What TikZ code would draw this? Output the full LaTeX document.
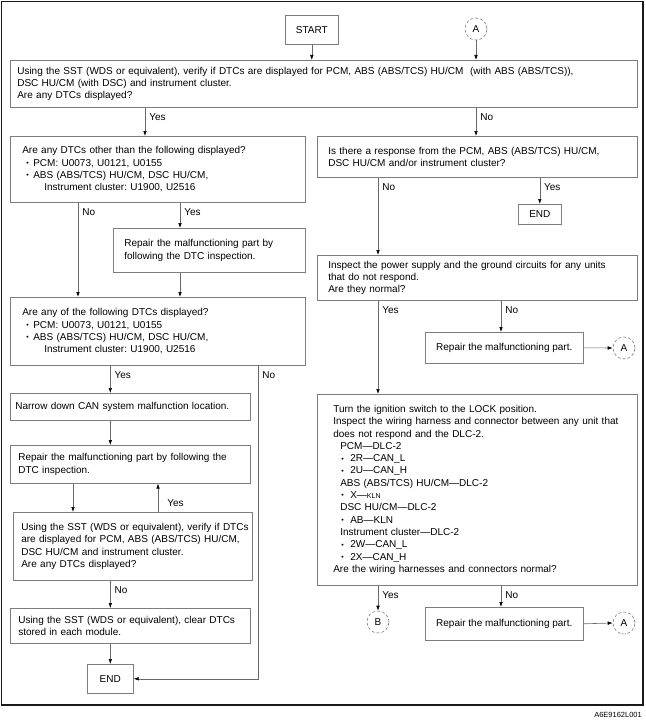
\documentclass[tikz,border=0pt]{standalone}
\usepackage{fontspec}
\setmainfont{Liberation Sans}
\definecolor{BoxGray}{RGB}{125,125,125}
\definecolor{LineGray}{RGB}{105,105,105}
\definecolor{FrameBlack}{RGB}{25,25,25}
\usetikzlibrary{arrows.meta,positioning,calc}
\newcommand{\bulletpt}[1][4pt]{\hspace*{#1}\makebox[7pt][l]{\raisebox{0.6pt}{\scriptsize\textbullet}}}

\begin{document}
\begin{tikzpicture}[x=1pt, y=-1pt, font=\fontsize{10}{12.3}\selectfont\frenchspacing,
    stepbox/.style={draw=BoxGray, line width=0.6pt, anchor=north west, align=left, inner ysep=0pt},
    endbox/.style={draw=BoxGray, line width=0.6pt, anchor=north west, align=center, inner sep=0pt},
    conn/.style={draw=BoxGray, line width=0.6pt, densely dashed, circle, inner sep=0pt, minimum size=22pt},
    arr/.style={draw=LineGray, line width=0.6pt, -{Latex[length=5pt,width=3.6pt,color=black]}},
    lbl/.style={anchor=north west, inner sep=0pt, xshift=4pt, yshift=-6pt},
    sidelbl/.style={anchor=west, inner sep=0pt, xshift=9pt}]
  \useasboundingbox (0,0) rectangle (645,725);
  \draw[line width=1.3pt, FrameBlack] (1.5,1.5) rectangle (643,705);

  \node[endbox, minimum width=53pt, minimum height=29pt] (start) at (285,15) {START};
  \node[conn] (cA1) at (476,29) {A};

  \node[stepbox, inner xsep=7pt, text width=613pt, minimum height=47pt] (q1) at (10,60)
    {Using the SST (WDS or equivalent), verify if DTCs are displayed for PCM, ABS (ABS/TCS) HU/CM\ \ (with ABS (ABS/TCS)),\\
     DSC HU/CM (with DSC) and instrument cluster.\\
     Are any DTCs displayed?};
  \node[stepbox, inner xsep=12pt, text width=271pt, minimum height=66pt] (q2) at (10,136)
    {Are any DTCs other than the following displayed?\\
     \bulletpt PCM: U0073, U0121, U0155\\
     \bulletpt ABS (ABS/TCS) HU/CM, DSC HU/CM,\\
     \hspace*{22pt}Instrument cluster: U1900, U2516};
  \node[stepbox, inner xsep=11pt, text width=298pt, minimum height=41pt] (q3) at (317,136)
    {Is there a response from the PCM, ABS (ABS/TCS) HU/CM,\\
     DSC HU/CM and/or instrument cluster?};
  \node[endbox, minimum width=43pt, minimum height=20pt] (end1) at (518,204) {END};
  \node[stepbox, inner xsep=11pt, text width=170pt, minimum height=44pt] (fix1) at (113,228)
    {Repair the malfunctioning part by\\
     following the DTC inspection.};
  \node[stepbox, inner xsep=11pt, text width=298pt, minimum height=45pt] (q4) at (317,255)
    {Inspect the power supply and the ground circuits for any units\\
     that do not respond.\\
     Are they normal?};
  \node[stepbox, inner xsep=12pt, text width=271pt, minimum height=68pt] (q5) at (10,297)
    {Are any of the following DTCs displayed?\\
     \bulletpt PCM: U0073, U0121, U0155\\
     \bulletpt ABS (ABS/TCS) HU/CM, DSC HU/CM,\\
     \hspace*{22pt}Instrument cluster: U1900, U2516};
  \node[endbox, minimum width=158pt, minimum height=31pt] (fix2) at (425,332) {Repair the malfunctioning part.};
  \node[conn] (cA2) at (624,348) {A};
  \node[stepbox, inner xsep=5pt, text width=230pt, minimum height=27pt] (narrow) at (10,393)
    {Narrow down CAN system malfunction location.};
  \node[stepbox, inner xsep=16pt, text width=288pt, minimum height=191pt] (turn) at (317,394)
    {Turn the ignition switch to the LOCK position.\\
     \mbox{Inspect the wiring harness and connector between any unit that}\\
     does not respond and the DLC-2.\\
     \hspace*{7pt}PCM—DLC-2\\
     \bulletpt[8pt]\hspace*{2pt}2R—CAN\_L\\
     \bulletpt[8pt]\hspace*{2pt}2U—CAN\_H\\
     \hspace*{7pt}ABS (ABS/TCS) HU/CM—DLC-2\\
     \bulletpt[8pt]\hspace*{2pt}X—{\scriptsize KLN}\\
     \hspace*{7pt}DSC HU/CM—DLC-2\\
     \bulletpt[8pt]\hspace*{2pt}AB—KLN\\
     \hspace*{7pt}Instrument cluster—DLC-2\\
     \bulletpt[8pt]\hspace*{2pt}2W—CAN\_L\\
     \bulletpt[8pt]\hspace*{2pt}2X—CAN\_H\\
     Are the wiring harnesses and connectors normal?};
  \node[stepbox, inner xsep=8pt, text width=224pt, minimum height=38pt] (fix3) at (10,445)
    {Repair the malfunctioning part by following the\\
     DTC inspection.};
  \node[stepbox, inner xsep=8pt, text width=223pt, minimum height=68pt] (q6) at (13,512)
    {\mbox{Using the SST (WDS or equivalent), verify if DTCs}\\
     are displayed for PCM, ABS (ABS/TCS) HU/CM,\\
     DSC HU/CM and instrument cluster.\\
     Are any DTCs displayed?};
  \node[stepbox, inner xsep=8pt, text width=224pt, minimum height=35pt] (clear) at (10,608)
    {Using the SST (WDS or equivalent), clear DTCs\\
     stored in each module.};
  \node[endbox, minimum width=158pt, minimum height=33pt] (fix4) at (425,607) {Repair the malfunctioning part.};
  \node[conn] (cB) at (378,622) {B};
  \node[conn] (cA3) at (624,623) {A};
  \node[endbox, minimum width=46pt, minimum height=29pt] (end2) at (87,664) {END};

  \node[anchor=south east, inner sep=0pt, font=\fontsize{7.5}{8}\selectfont] (figid) at (642,718) {A6E9162L001};

  \coordinate (yesL) at (145,0);
  \coordinate (noL) at (78,0);
  \coordinate (yesR) at (180,0);
  \coordinate (noB) at (258,0);
  \coordinate (dnL) at (73,0);
  \coordinate (upL) at (158,0);
  \coordinate (noR) at (501,0);

  \draw[arr] (start.south) -- (q1.north -| start);
  \draw[arr] (cA1.south) -- (q1.north -| cA1);
  \draw[arr] (q1.south -| yesL) node[lbl] {Yes} -- (q2.north -| yesL);
  \draw[arr] (q1.south -| cA1) node[lbl] {No} -- (q3.north -| cA1);
  \draw[arr] (q3.south -| cB) node[lbl] {No} -- (q4.north -| cB);
  \draw[arr] (q3.south -| end1) node[lbl] {Yes} -- (end1.north);
  \draw[arr] (q2.south -| noL) node[lbl] {No} -- (q5.north -| noL);
  \draw[arr] (q2.south -| yesR) node[lbl] {Yes} -- (fix1.north -| yesR);
  \draw[arr] (fix1.south -| yesR) -- (q5.north -| yesR);
  \draw[arr] (q4.south -| cB) node[lbl] {Yes} -- (turn.north -| cB);
  \draw[arr] (q4.south -| noR) node[lbl] {No} -- (fix2.north -| noR);
  \draw[arr] (fix2.east) -- (cA2.west);
  \draw[arr] (q5.south -| end2) node[lbl] {Yes} -- (narrow.north -| end2);
  \draw[arr] (q5.south -| noB) node[lbl] {No} |- (end2.east);
  \draw[arr] (narrow.south -| end2) -- (fix3.north -| end2);
  \draw[arr] (fix3.south -| dnL) -- (q6.north -| dnL);
  \draw[arr] (q6.north -| upL) -- node[sidelbl, pos=0.3] {Yes} (fix3.south -| upL);
  \draw[arr] (q6.south -| end2) node[lbl] {No} -- (clear.north -| end2);
  \draw[arr] (clear.south -| end2) -- (end2.north);
  \draw[arr] (turn.south -| cB) node[lbl] {Yes} -- (cB.north);
  \draw[arr] (turn.south -| noR) node[lbl] {No} -- (fix4.north -| noR);
  \draw[arr] (fix4.east) -- (cA3.west);
\end{tikzpicture}
\end{document}
